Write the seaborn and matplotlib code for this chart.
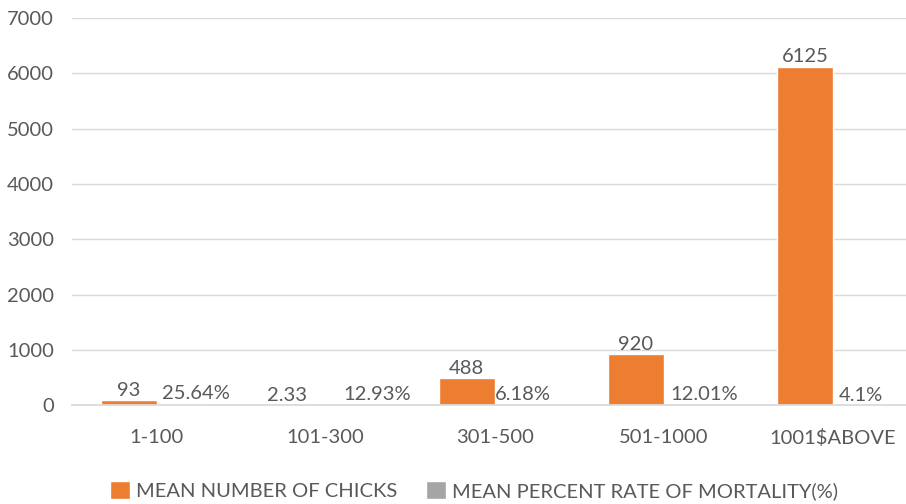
import pandas as pd
import numpy as np
import matplotlib
matplotlib.use('Agg')
import matplotlib.pyplot as plt
import seaborn as sns

# Data
categories = ['1-100', '101-300', '301-500', '501-1000', '1001$ABOVE']
mean_chicks = [93, 2.33, 488, 920, 6125]
mortality_pct = [25.64, 12.93, 6.18, 12.01, 4.1]
chick_labels = ['93', '2.33', '488', '920', '6125']
mortality_labels = ['25.64%', '12.93%', '6.18%', '12.01%', '4.1%']
series_names = ['MEAN NUMBER OF CHICKS', 'MEAN PERCENT RATE OF MORTALITY(%)']

# label nudges (pixels) so crowded labels don't collide, like Excel does
chick_nudge = [0, -11, 0, 0, 0]
mortality_nudge = [11, 24, 0, 13, 0]

df = pd.DataFrame({
    'group': categories * 2,
    'value': mean_chicks + mortality_pct,
    'series': [series_names[0]] * len(categories) + [series_names[1]] * len(categories),
})

sns.set_theme(style='white')
plt.rcParams['font.family'] = ['Lato', 'DejaVu Sans']

text_color = '#595959'
fs = 14.5
palette = {series_names[0]: '#ED7D31', series_names[1]: '#A5A5A5'}

fig = plt.figure(figsize=(9.06, 5.04), dpi=100)
ax = fig.add_axes([0.0795, 0.196, 0.933, 0.768])

sns.barplot(data=df, x='group', y='value', hue='series', palette=palette,
            width=0.66, gap=0, saturation=1, ax=ax, legend=True)

ax.set_ylim(0, 7000)
ax.set_yticks(np.arange(0, 7001, 1000))
ax.set_xlim(-0.5, len(categories) - 0.5)
ax.yaxis.grid(True, color='#D9D9D9', linewidth=1)
ax.set_axisbelow(True)
for side in ['top', 'right', 'left']:
    ax.spines[side].set_visible(False)
ax.spines['bottom'].set_color('#D9D9D9')
ax.tick_params(axis='both', length=0, labelsize=fs, labelcolor=text_color)
ax.tick_params(axis='x', pad=17)
ax.tick_params(axis='y', pad=13)
ax.set_xlabel('')
ax.set_ylabel('')

# data labels, placed from the drawn bars
for container, labels, nudges in [(ax.containers[0], chick_labels, chick_nudge),
                                  (ax.containers[1], mortality_labels, mortality_nudge)]:
    for bar, lab, dx in zip(container, labels, nudges):
        ax.annotate(lab, xy=(bar.get_x() + bar.get_width() / 2, bar.get_height()),
                    xytext=(dx * 0.72, 1), textcoords='offset points',
                    ha='center', va='bottom', fontsize=fs, color=text_color)

handles, labels = ax.get_legend_handles_labels()
ax.legend_.remove()
fig.legend(handles, labels, loc='lower center', bbox_to_anchor=(0.523, -0.028),
           ncol=2, frameon=False, fontsize=fs, labelcolor=text_color,
           handlelength=1.0, handleheight=1.0, handletextpad=0.3,
           columnspacing=1.4)

fig.savefig('out.png', dpi=100)
